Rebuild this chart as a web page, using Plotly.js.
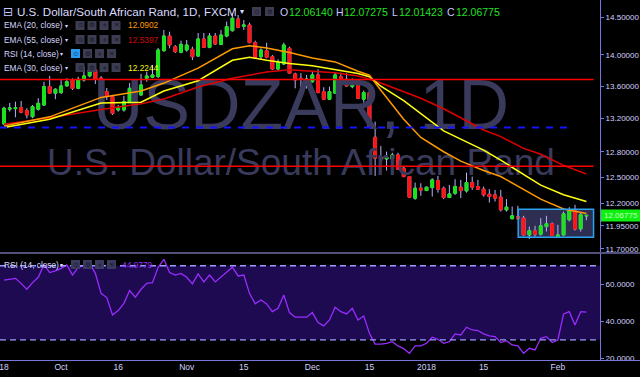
<!DOCTYPE html>
<html><head><meta charset="utf-8">
<script src="https://cdn.plot.ly/plotly-3.0.1.min.js"></script>
<style>html,body{margin:0;padding:0;background:#000;}#chart{width:640px;height:377px;}</style>
</head><body><div id="chart"></div>
<script>
// ---------- DATA ----------
const dates = [
'2017-09-18','2017-09-19','2017-09-20','2017-09-21','2017-09-22','2017-09-25','2017-09-26','2017-09-27','2017-09-28','2017-09-29',
'2017-10-02','2017-10-03','2017-10-04','2017-10-05','2017-10-06','2017-10-09','2017-10-10','2017-10-11','2017-10-12','2017-10-13',
'2017-10-16','2017-10-17','2017-10-18','2017-10-19','2017-10-20','2017-10-23','2017-10-24','2017-10-25','2017-10-26','2017-10-27',
'2017-10-30','2017-10-31','2017-11-01','2017-11-02','2017-11-03','2017-11-06','2017-11-07','2017-11-08','2017-11-09','2017-11-10',
'2017-11-13','2017-11-14','2017-11-15','2017-11-16','2017-11-17','2017-11-20','2017-11-21','2017-11-22','2017-11-23','2017-11-24',
'2017-11-27','2017-11-28','2017-11-29','2017-11-30','2017-12-01','2017-12-04','2017-12-05','2017-12-06','2017-12-07','2017-12-08',
'2017-12-11','2017-12-12','2017-12-13','2017-12-14','2017-12-15','2017-12-18','2017-12-19','2017-12-20','2017-12-21','2017-12-22',
'2017-12-26','2017-12-27','2017-12-28','2017-12-29','2018-01-01','2018-01-02','2018-01-03','2018-01-04','2018-01-05','2018-01-08',
'2018-01-09','2018-01-10','2018-01-11','2018-01-12','2018-01-15','2018-01-16','2018-01-17','2018-01-18','2018-01-19','2018-01-22',
'2018-01-23','2018-01-24','2018-01-25','2018-01-26','2018-01-29','2018-01-30','2018-01-31','2018-02-01','2018-02-02','2018-02-05',
'2018-02-06','2018-02-07','2018-02-08'];

const open = [13.133,13.314,13.321,13.333,13.296,13.222,13.314,13.366,13.595,13.512,
13.520,13.604,13.679,13.574,13.679,13.730,13.806,13.704,13.532,13.470,
13.305,13.305,13.395,13.574,13.491,13.701,13.714,13.722,14.055,14.247,
14.107,14.034,14.064,14.073,13.986,14.208,14.099,14.247,14.138,14.247,
14.318,14.473,14.376,14.393,14.160,13.977,14.055,13.977,13.819,13.883,
14.086,13.756,13.700,13.680,13.657,13.743,13.532,13.438,13.512,13.721,
13.688,13.595,13.670,13.438,13.520,12.973,12.735,12.715,12.715,12.762,
12.607,12.509,12.262,12.375,12.348,12.382,12.463,12.375,12.269,12.318,
12.387,12.345,12.440,12.394,12.364,12.307,12.299,12.273,12.130,12.030,
12.055,12.038,11.852,11.897,11.860,11.944,11.974,11.834,11.852,12.019,
12.122,11.919,12.06140];
const high = [13.345,13.391,13.408,13.416,13.326,13.366,13.450,13.657,13.730,13.574,
13.679,13.700,13.700,13.721,13.848,13.870,13.828,13.730,13.578,13.491,
13.366,13.479,13.641,13.616,13.756,13.785,13.870,14.090,14.327,14.304,
14.129,14.186,14.195,14.107,14.287,14.287,14.287,14.287,14.327,14.438,
14.550,14.527,14.460,14.424,14.186,14.086,14.160,13.999,13.943,14.160,
14.107,13.772,13.768,13.743,13.785,13.815,13.587,13.595,13.772,13.772,
13.765,13.700,13.688,13.545,13.545,13.161,12.869,12.801,12.789,12.789,
12.634,12.517,12.440,12.432,12.392,12.490,12.517,12.394,12.413,12.479,
12.471,12.556,12.509,12.471,12.394,12.364,12.356,12.356,12.251,12.167,
12.175,12.063,11.944,11.952,12.038,12.063,11.989,11.963,12.111,12.160,
12.186,12.093,12.07275];
const low = [13.121,13.284,13.215,13.264,13.203,13.203,13.297,13.354,13.512,13.438,
13.503,13.595,13.553,13.562,13.657,13.714,13.629,13.516,13.429,13.243,
13.284,13.284,13.391,13.470,13.479,13.657,13.701,13.704,14.042,14.086,
14.025,14.021,14.042,13.934,13.973,14.090,14.086,14.129,14.129,14.230,
14.305,14.349,14.327,14.152,13.956,13.943,13.956,13.806,13.797,13.870,
13.756,13.574,13.578,13.570,13.645,13.512,13.429,13.429,13.503,13.553,
13.595,13.574,13.438,13.395,13.081,12.517,12.672,12.579,12.696,12.587,
12.502,12.265,12.243,12.288,12.345,12.280,12.325,12.251,12.262,12.299,
12.262,12.325,12.356,12.356,12.280,12.212,12.224,12.111,12.111,12.027,
12.019,11.844,11.806,11.833,11.844,11.889,11.841,11.827,11.844,12.000,
11.900,11.889,12.01423];
const close = [13.326,13.329,13.333,13.277,13.243,13.345,13.387,13.595,13.512,13.562,
13.604,13.657,13.574,13.688,13.730,13.806,13.688,13.528,13.470,13.264,
13.326,13.408,13.574,13.491,13.616,13.730,13.743,14.064,14.247,14.129,
14.042,14.138,14.129,13.977,14.208,14.099,14.247,14.142,14.260,14.371,
14.483,14.362,14.393,14.160,13.969,14.064,13.969,13.819,13.899,14.129,
13.765,13.679,13.685,13.690,13.743,13.520,13.438,13.532,13.743,13.645,
13.604,13.679,13.450,13.520,13.093,12.724,12.715,12.735,12.762,12.595,
12.509,12.273,12.375,12.353,12.387,12.471,12.364,12.269,12.310,12.394,
12.348,12.440,12.387,12.364,12.299,12.280,12.262,12.130,12.160,12.063,
12.030,11.852,11.897,11.860,11.952,11.974,11.844,11.852,12.085,12.122,
11.916,12.074,12.06775];

// indicator lines, read at sample bars
const emaIdx = [0,8,17,24,28,34,40,43,46,50,54,58,62,64,66,70,73,77,80,84,87,91,94,98,102];
const ema20 = [13.11,13.22,13.46,13.54,13.64,13.83,14.08,14.12,14.09,14.03,13.96,13.91,13.79,13.74,13.55,13.19,12.97,12.80,12.69,12.58,12.51,12.36,12.25,12.14,12.0902];
const ema30 = [13.09,13.19,13.39,13.40,13.54,13.67,13.93,13.97,13.93,13.89,13.86,13.81,13.76,13.72,13.60,13.42,13.26,13.05,12.95,12.82,12.70,12.53,12.41,12.30,12.2244];
const ema55 = [13.13,13.21,13.31,13.38,13.44,13.59,13.70,13.74,13.78,13.81,13.79,13.77,13.73,13.69,13.64,13.53,13.45,13.32,13.21,13.06,12.98,12.84,12.77,12.64,12.5397];

const rsi = [62.3,62.8,63.2,60.5,57.3,60.9,63.8,70.5,66.3,67.2,
68.6,70.5,65.0,69.2,69.9,71.4,65.9,55.1,52.8,43.4,
45.8,49.7,56.6,53.0,57.3,60.5,60.9,69.2,73.5,66.3,
65.0,65.9,63.8,60.2,65.6,61.3,65.0,61.3,63.8,66.3,
69.2,64.5,65.0,55.1,49.4,51.5,49.4,45.2,47.0,54.2,
44.7,42.2,42.2,42.2,44.7,39.3,37.5,40.7,47.6,45.2,
44.0,47.0,40.7,42.9,33.5,27.7,27.7,28.1,29.0,26.7,
25.2,22.7,26.7,26.7,28.1,31.4,30.3,28.1,29.0,33.2,
32.6,36.8,35.3,35.0,33.2,32.1,31.7,28.5,29.5,27.2,
26.7,22.7,25.4,24.5,30.8,31.7,28.5,29.9,44.0,45.2,
38.0,45.2,44.9779];

const xTickDates = ['2017-09-18','2017-10-02','2017-10-16','2017-11-01','2017-11-15','2017-12-01','2017-12-15','2018-01-01','2018-01-15','2018-02-01'];
const xTickText = ['18','Oct','16','Nov','15','Dec','15','2018','15','Feb'];
const priceTicks = [14.5,14.0,13.6,13.2,12.8,12.5,12.2,11.95,11.7];
const rsiTicks = [20,40,60];

// drawings
const resistanceLevels = [13.685, 12.628];
const dashedLevel = 13.09;
const boxHigh = 12.138, boxLow = 11.826;
const boxStartIdx = 90.05, boxEndIdx = 103.25, lineEndIdx = 103.25, dashedEndIdx = 99.1;
const rsiUpper = 70, rsiLower = 30;
const legendOHLC = {O:'12.06140', H:'12.07275', L:'12.01423', C:'12.06775'};
const emaLegend = [['EMA (20, close)','12.0902','#ff9a00'],['EMA (55, close)','12.5397','#cc0a0a'],['RSI (14, close)','',''],['EMA (30, close)','12.2244','#f4f41a']];
const rsiLast = '44.9779';

// ---------- STYLE ----------
const FONT = 'Liberation Sans, Arial, sans-serif';
const GREEN = '#18e418', RED = '#ff1414', WICK = '#b4b4ff';
const AXIS = '#7878dc', LBL = '#d2d2ff';
const PW = 600, PH = 360;
const px = x => x / PW, py = y => 1 - y / PH;
const L = Math.log10;
const YR = [1.066915, 1.168201];
const yd = v => (L(v) - YR[0]) / (YR[1] - YR[0]);   // price -> fraction of price-pane height

const bodyHigh = open.map((o,i)=>Math.max(o, close[i]));
const bodyLow = open.map((o,i)=>Math.min(o, close[i]));
const emaX = emaIdx.map(i=>dates[i]);

const traces = [
 {type:'scatter', mode:'text', x:[dates[52]], y:[13.29], text:['USDZAR, 1D'], textposition:'middle center',
  textfont:{family:FONT, size:70, color:'#3a3a5c'}, hoverinfo:'skip', xaxis:'x', yaxis:'y'},
 {type:'scatter', mode:'text', x:[dates[52]], y:[12.63], text:['U.S. Dollar/South African Rand'], textposition:'middle center',
  textfont:{family:FONT, size:37, color:'#3a3a5c'}, hoverinfo:'skip', xaxis:'x', yaxis:'y'},
 {type:'scatter', mode:'lines', x:emaX, y:ema55, line:{color:'#e00000', width:1.5}, xaxis:'x', yaxis:'y', hoverinfo:'skip'},
 {type:'scatter', mode:'lines', x:emaX, y:ema30, line:{color:'#ffff10', width:1.5}, xaxis:'x', yaxis:'y', hoverinfo:'skip'},
 {type:'scatter', mode:'lines', x:emaX, y:ema20, line:{color:'#ff9a00', width:1.5}, xaxis:'x', yaxis:'y', hoverinfo:'skip'},
 {type:'candlestick', x:dates, open:open, high:high, low:low, close:close, whiskerwidth:0,
  increasing:{line:{color:WICK, width:1}, fillcolor:GREEN}, decreasing:{line:{color:WICK, width:1}, fillcolor:RED},
  xaxis:'x', yaxis:'y', hoverinfo:'skip'},
 {type:'candlestick', x:dates, open:open, high:bodyHigh, low:bodyLow, close:close, whiskerwidth:0,
  increasing:{line:{color:GREEN, width:1}, fillcolor:GREEN}, decreasing:{line:{color:RED, width:1}, fillcolor:RED},
  xaxis:'x', yaxis:'y', hoverinfo:'skip'},
 {type:'scatter', mode:'lines', x:dates, y:rsi, line:{color:'#9a2cff', width:1.3}, xaxis:'x', yaxis:'y2', hoverinfo:'skip'}
];

const shapes = [];
// RSI band and levels
shapes.push({type:'rect', layer:'below', xref:'paper', yref:'y2', x0:0, x1:1, y0:rsiLower, y1:rsiUpper, fillcolor:'#1e0a50', line:{width:0}});
[rsiUpper, rsiLower].forEach(v=>shapes.push({type:'line', xref:'paper', yref:'y2', x0:0, x1:1, y0:v, y1:v, line:{color:'#9c9cff', width:1.3, dash:'6px,4px'}}));
// box
shapes.push({type:'rect', layer:'below', xref:'x', yref:'y domain', x0:boxStartIdx, x1:boxEndIdx, y0:yd(boxLow), y1:yd(boxHigh), fillcolor:'#2e2e52', line:{width:0}});
shapes.push({type:'rect', xref:'x', yref:'y domain', x0:boxStartIdx, x1:boxEndIdx, y0:yd(boxLow), y1:yd(boxHigh), fillcolor:'rgba(0,0,0,0)', line:{color:'#2aa2ee', width:1.5}});
// horizontal lines
resistanceLevels.forEach(v=>shapes.push({type:'line', xref:'x', yref:'y domain', x0:-0.7, x1:lineEndIdx, y0:yd(v), y1:yd(v), line:{color:'#ff0000', width:1.5}}));
shapes.push({type:'line', xref:'x', yref:'y domain', x0:-0.7, x1:dashedEndIdx, y0:yd(dashedLevel), y1:yd(dashedLevel), line:{color:'#1414ff', width:2, dash:'7px,7px'}});
// pane separators
shapes.push({type:'line', xref:'paper', yref:'paper', x0:0, x1:640/PW, y0:py(253), y1:py(253), line:{color:'#6c6ca4', width:1.5}});
shapes.push({type:'line', xref:'paper', yref:'paper', x0:0, x1:640/PW, y0:py(360.5), y1:py(360.5), line:{color:AXIS, width:1}});
// last price label
const lp = parseFloat(legendOHLC.C);
const hPx = 6 / 252;
shapes.push({type:'rect', xref:'paper', yref:'y domain', x0:px(601), x1:px(640), y0:yd(lp)-hPx, y1:yd(lp)+hPx, fillcolor:'#10f010', line:{width:0}});

const annotations = [];
function txt(t, x, y, color, size, family, extra){
  annotations.push(Object.assign({text:t, xref:'paper', yref:'paper', x:px(x), y:py(y), xanchor:'left', yanchor:'middle', showarrow:false,
   font:{family:family||FONT, size:size, color:color}, borderpad:0}, extra||{}));
}
function icon(x, y, bg, glyph, gcol){
  shapes.push({type:'rect', xref:'paper', yref:'paper', x0:px(x), x1:px(x+9), y0:py(y+4.5), y1:py(y-4.5), fillcolor:bg, line:{width:0}});
  annotations.push({text:glyph, xref:'paper', yref:'paper', x:px(x+4.5), y:py(y), xanchor:'center', yanchor:'middle', showarrow:false,
   font:{family:'DejaVu Sans', size:6.5, color:gcol}});
}
annotations.push({text:legendOHLC.C, xref:'paper', yref:'y domain', x:px(620.5), y:yd(lp), xanchor:'center', yanchor:'middle', showarrow:false, font:{family:FONT, size:8, color:'#c4ffc4'}});

// header
txt('⊟', 2, 11.5, '#c8c8ff', 12, 'DejaVu Sans');
txt('U.S. Dollar/South African Rand, 1D, FXCM', 16, 11.5, '#dcdcff', 11.6);
txt('▾', 239, 11.5, '#dcdcff', 8, 'DejaVu Sans');
icon(252, 11.5, '#3c3c52', '⊙', '#15151f');
icon(265, 11.5, '#3c3c52', '⚙', '#15151f');
const ohlcX = [[ 'O',279,288],['H',335,343],['L',391,398],['C',446,455]];
ohlcX.forEach(([k,xl,xn])=>{ txt(k, xl, 11.5, '#c8c8ff', 10.5); txt(legendOHLC[k], xn, 11.5, '#22e022', 10.5); });
// indicator rows
const rowY = [25.5, 39.5, 53.5, 67.5];
emaLegend.forEach(([name,val,col],k)=>{
  const y = rowY[k];
  txt(name, 3, y, '#d6d6ff', 8.3);
  const isRsi = name.startsWith('RSI');
  txt('▾', isRsi?59:63.5, y, '#d6d6ff', 6, 'DejaVu Sans');
  const x0 = isRsi ? 71 : 75.5;
  icon(x0, y, isRsi?'#2a9cf0':'#3c3c52', '⊙', isRsi?'#0a3c70':'#15151f');
  icon(x0+12, y, '#3c3c52', '⚙', '#15151f');
  icon(x0+24, y, '#3c3c52', '+', '#15151f');
  icon(x0+36, y, '#3c3c52', '✕', '#15151f');
  if (val) txt(val, 127, y, col, 8.4);
});
// RSI pane legend
txt('RSI (14, close)', 3, 264.5, '#d6d6ff', 8.3);
txt('▾', 59, 264.5, '#d6d6ff', 6, 'DejaVu Sans');
icon(71, 264.5, '#3a3a5e', '⊙', '#15151f');
icon(83, 264.5, '#3a3a5e', '⚙', '#15151f');
icon(95, 264.5, '#3a3a5e', '+', '#15151f');
icon(107, 264.5, '#3a3a5e', '✕', '#15151f');
txt(rsiLast, 121, 264.5, '#9a2cff', 8.4);

const layout = {
  width:640, height:377, margin:{l:0, r:40, t:0, b:17, pad:0}, autosize:false,
  paper_bgcolor:'#000', plot_bgcolor:'#000', showlegend:false,
  font:{family:FONT, color:LBL},
  xaxis:{type:'category', categoryorder:'array', categoryarray:dates, range:[-0.7, 104.38], anchor:'y2',
    tickmode:'array', tickvals:xTickDates, ticktext:xTickText, ticks:'', showgrid:false, zeroline:false, showline:false,
    tickfont:{family:FONT, size:8.5, color:LBL}, rangeslider:{visible:false}, fixedrange:true},
  yaxis:{type:'log', domain:[0.3,1], range:YR, side:'right', anchor:'x',
    tickmode:'array', tickvals:priceTicks, ticktext:priceTicks.map(v=>v.toFixed(5)), ticks:'outside', ticklen:3, tickcolor:AXIS,
    tickfont:{family:FONT, size:8, color:LBL}, showgrid:false, zeroline:false, showline:true, linecolor:AXIS, linewidth:1, fixedrange:true},
  yaxis2:{domain:[0, 107/360], range:[19.08, 76.9], side:'right', anchor:'x',
    tickmode:'array', tickvals:rsiTicks, ticktext:rsiTicks.map(v=>v.toFixed(4)), ticks:'outside', ticklen:3, tickcolor:AXIS,
    tickfont:{family:FONT, size:8, color:LBL}, showgrid:false, zeroline:false, showline:true, linecolor:AXIS, linewidth:1, fixedrange:true},
  shapes:shapes, annotations:annotations
};
Plotly.newPlot('chart', traces, layout, {staticPlot:true, displayModeBar:false});
</script>
</body></html>
